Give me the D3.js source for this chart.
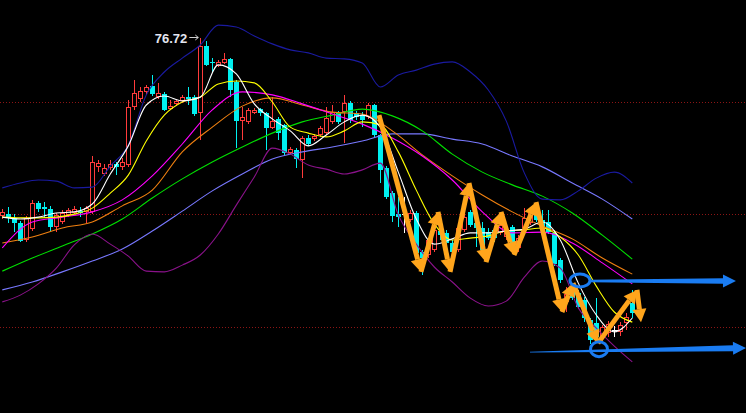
<!DOCTYPE html>
<html><head><meta charset="utf-8">
<script src="https://cdn.jsdelivr.net/npm/d3@7"></script>
<style>html,body{margin:0;padding:0;background:#000;overflow:hidden}</style>
</head><body>
<svg id="c" width="746" height="413"></svg>
<script>
// ---------- candle data (price) ----------
const opens=[71.96,72.01,71.91,71.77,71.32,71.61,72.31,72.20,72.15,71.67,
71.80,71.99,72.04,72.09,72.07,72.07,73.27,73.08,73.24,73.35,
73.27,73.32,74.87,75.08,75.27,75.43,75.13,75.21,74.81,74.95,
75.03,75.13,75.13,74.71,76.49,76.07,75.96,76.04,76.15,75.53,
74.49,74.47,74.71,74.81,74.71,74.31,74.55,74.39,73.64,73.72,
73.45,74.04,74.01,74.12,74.17,74.47,74.71,74.73,74.97,74.71,
74.65,74.60,74.92,74.12,73.24,72.57,72.01,72.01,71.85,72.04,
71.00,70.92,71.05,71.56,71.51,71.24,71.05,71.59,72.07,71.77,
71.64,71.53,71.59,71.51,71.40,71.67,71.11,71.64,71.77,72.04,
71.85,71.80,71.51,70.79,69.67,69.99,69.91,69.72,69.19,69.11,
68.73,68.84,68.92,68.87,69.11,69.64];
const highs=[72.15,72.20,72.01,71.83,71.96,72.39,72.36,72.33,72.23,72.04,
72.12,72.17,72.23,72.20,72.23,73.56,73.45,73.35,73.45,73.40,
73.51,75.05,75.59,75.40,75.45,75.72,75.51,75.27,75.05,75.08,
75.19,75.40,75.19,76.72,76.63,76.17,76.12,76.31,76.17,75.59,
74.87,74.84,74.84,74.84,74.73,75.13,74.60,74.41,73.80,73.77,
74.09,74.12,74.15,74.36,74.87,74.92,74.76,75.19,75.03,74.76,
74.73,74.97,74.95,74.15,73.29,72.63,72.47,72.47,72.12,72.09,
71.05,71.37,71.64,71.77,71.59,71.32,71.72,72.01,72.12,71.93,
71.80,71.64,71.69,71.80,71.67,71.72,71.45,72.17,72.12,72.12,
72.12,72.12,71.59,70.84,70.07,70.09,69.99,69.80,69.24,69.77,
69.05,69.16,69.03,69.13,69.37,69.99];
const lows=[71.88,71.77,71.53,71.27,71.27,71.56,72.07,71.91,71.56,71.53,
71.75,71.93,72.01,71.93,71.77,72.01,73.13,73.03,73.19,73.05,
73.19,73.27,74.79,75.00,75.19,75.16,75.08,74.76,74.79,74.89,
74.97,74.92,74.63,73.99,75.96,75.80,75.93,76.01,75.13,73.77,
73.99,74.41,74.68,74.63,73.72,74.28,73.99,73.59,73.61,73.24,
72.97,73.83,73.96,74.07,74.12,74.41,74.41,73.91,74.44,74.52,
74.33,74.55,74.07,72.84,72.41,71.80,71.67,71.51,71.80,70.92,
70.39,70.84,71.00,71.32,71.16,70.73,71.00,71.53,71.67,71.13,
70.87,71.32,71.27,71.45,71.32,71.00,71.00,71.59,71.72,71.80,
71.59,71.48,70.63,70.17,69.40,69.72,69.48,69.13,68.55,68.65,
68.60,68.73,68.73,68.76,68.92,69.24];
const closes=[72.07,71.91,71.77,71.29,71.91,72.31,72.15,72.15,71.67,71.99,
72.04,72.12,72.15,72.04,72.17,73.40,73.37,73.24,73.35,73.27,
73.40,74.87,75.24,75.29,75.40,75.21,75.24,74.79,74.89,75.03,
75.13,75.08,74.68,76.49,75.99,76.03,76.07,76.15,75.32,74.49,
74.60,74.79,74.79,74.71,74.31,74.49,74.17,73.64,73.75,73.48,
74.04,73.88,74.09,74.31,74.57,74.73,74.47,74.97,74.52,74.60,
74.52,74.92,74.12,73.19,72.47,71.96,71.93,72.01,72.04,70.97,
70.84,71.32,71.59,71.45,71.24,71.00,71.64,71.93,71.72,71.64,
71.05,71.37,71.37,71.72,71.59,71.24,71.37,71.91,72.04,71.85,
71.67,71.53,70.68,70.25,69.88,69.77,69.53,69.24,68.65,68.73,
69.00,69.08,68.92,69.05,69.27,69.37];

// ---------- indicator lines ----------
const idx3=[0,3,6,9,12,15,18,21,24,27,30,33,36,39,42,45,48,51,54,57,60,63,66,69,72,75,78,81,84,87,90,93,96,99,102,105];
const idx5=[0,5,10,15,20,25,30,35,40,45,50,55,60,65,70,75,80,85,90,95,100,105];
const ma5=[71.93,71.88,71.93,72.04,72.07,72.28,73.08,73.83,74.92,75.16,75.03,75.13,75.99,75.75,74.95,74.55,74.23,73.83,74.12,74.47,74.65,74.33,73.13,71.88,71.21,71.35,71.51,71.51,71.56,71.61,71.80,71.32,70.17,69.32,68.87,69.24];
const ma10=[71.93,71.91,71.91,71.93,72.01,72.17,72.57,73.05,73.96,74.65,75.00,75.13,75.48,75.56,75.51,75.00,74.33,74.17,74.07,74.23,74.47,74.39,73.67,72.65,71.75,71.32,71.37,71.43,71.56,71.59,71.64,71.40,70.92,70.09,69.40,69.13];
const ma20=[71.11,71.80,71.93,72.07,72.39,73.03,73.88,74.79,75.27,75.19,74.95,74.68,74.41,74.04,73.56,72.92,72.07,71.51,71.53,71.24,70.71,70.15];
const ma30=[71.24,71.40,71.64,71.80,72.23,72.65,73.67,74.33,74.89,75.11,74.92,74.73,74.68,74.23,73.59,73.03,72.52,72.07,71.69,71.35,70.84,70.41];
const ma60=[70.49,70.84,71.16,71.48,71.88,72.44,72.95,73.40,73.80,74.17,74.47,74.65,74.81,74.63,74.23,73.61,73.13,72.79,72.49,72.04,71.45,70.81];
const ma120=[69.99,70.20,70.47,70.76,71.08,71.56,72.09,72.63,73.08,73.48,73.67,73.80,73.96,74.15,74.15,74.01,73.88,73.56,73.27,72.84,72.41,71.88];
const bollUp=[72.71,72.84,72.92,72.89,72.71,72.73,73.29,73.85,75.19,75.80,76.17,76.52,77.05,77.00,76.76,76.55,76.39,76.31,76.17,76.15,76.04,75.40,75.72,75.85,76.01,76.07,75.80,75.32,74.49,73.11,72.41,72.39,72.63,72.97,73.13,72.84];
const bollDn=[69.67,69.85,70.15,70.57,71.19,71.48,71.21,70.89,70.49,70.47,70.65,70.92,71.48,72.25,73.00,73.77,73.61,73.32,73.21,73.08,73.19,73.37,71.99,71.21,70.60,70.20,69.77,69.56,69.69,70.33,70.76,70.57,69.51,68.97,68.49,68.07];

const gridLevels=[75,72,69];

// ---------- annotations in (bar index, price) ----------
const zigzag=[[62.78,74.65],[69.78,70.47],[72.62,72.07],[74.62,70.47],[77.78,72.84],[80.62,70.73],[83.12,72.07],[85.28,70.92],[88.95,72.33],[93.28,69.40],[95.12,70.17],[99.28,68.57],[105.78,69.99],[106.45,69.13]];
const blueArrows=[{from:[97.95,70.23],to:[122.28,70.23],w0:2.5,w1:5.5},{from:[87.95,68.33],to:[123.95,68.44],w0:0.8,w1:6}];
const blueRings=[{c:[96.28,70.24],rx:10,ry:6.5},{c:[99.45,68.41],rx:8.5,ry:7.5}];

// ---------- drawing ----------
const W=746,H=413;
const svg=d3.select('#c');
svg.append('rect').attr('width',W).attr('height',H).attr('fill','#000');
const x=d3.scaleLinear().domain([0,105]).range([2.3,632.3]);
const y=d3.scaleLinear().domain([69,75]).range([327,102]);

svg.append('g').attr('shape-rendering','crispEdges').selectAll('line').data(gridLevels).join('line')
  .attr('x1',0).attr('x2',W)
  .attr('y1',d=>Math.floor(y(d))+0.5).attr('y2',d=>Math.floor(y(d))+0.5)
  .attr('stroke','#8c1515').attr('stroke-dasharray','1 2').attr('stroke-width',1);

const gC=svg.append('g').attr('shape-rendering','crispEdges');
opens.forEach((o,i)=>{
  const c=closes[i],h=highs[i],l=lows[i];
  const cx=Math.round(x(i))+0.5;
  const doji=(c===o), up=c>o;
  const col=doji?'#ffffff':(up?'#ff3b3b':'#00f0f0');
  const top=Math.round(y(Math.max(o,c))), bot=Math.round(y(Math.min(o,c)));
  gC.append('line').attr('x1',cx).attr('x2',cx).attr('y1',Math.round(y(h))).attr('y2',top).attr('stroke',col);
  gC.append('line').attr('x1',cx).attr('x2',cx).attr('y1',bot).attr('y2',Math.round(y(l))).attr('stroke',col);
  if(doji){
    gC.append('line').attr('x1',cx-3).attr('x2',cx+3).attr('y1',top+0.5).attr('y2',top+0.5).attr('stroke',col);
  } else if(up){
    gC.append('rect').attr('x',cx-2).attr('y',top+0.5).attr('width',4).attr('height',Math.max(1,bot-top-1))
      .attr('fill','#000').attr('stroke',col);
  } else {
    gC.append('rect').attr('x',cx-2.5).attr('y',top).attr('width',5).attr('height',Math.max(1,bot-top)).attr('fill',col);
  }
});

const series=[
  {idx:idx5,v:ma120,col:'#7878ff'},
  {idx:idx5,v:ma60,col:'#00e000'},
  {idx:idx3,v:bollUp,col:'#1a1aa0'},
  {idx:idx3,v:bollDn,col:'#8a128a'},
  {idx:idx5,v:ma30,col:'#f08010'},
  {idx:idx5,v:ma20,col:'#ff00ff'},
  {idx:idx3,v:ma10,col:'#ffff00'},
  {idx:idx3,v:ma5,col:'#ffffff'}
];
const line=d3.line().x(d=>x(d[0])).y(d=>y(d[1])).curve(d3.curveMonotoneX);
svg.append('g').selectAll('path').data(series).join('path')
  .attr('d',s=>line(s.idx.map((k,j)=>[k,s.v[j]])))
  .attr('fill','none').attr('stroke',s=>s.col).attr('stroke-width',1.1);

// high label
const hi=d3.maxIndex(highs);
const hx=x(hi), hy=y(highs[hi]);
svg.append('text').attr('x',hx-13).attr('y',hy+5.5).attr('text-anchor','end')
  .attr('font-family','"Liberation Sans", Arial, sans-serif').attr('font-weight','bold').attr('font-size',13)
  .attr('fill','#e4e6f0').text(d3.format('.2f')(highs[hi]));
svg.append('line').attr('x1',hx-11).attr('x2',hx-2).attr('y1',hy).attr('y2',hy).attr('stroke','#d0d0d0');
svg.append('path').attr('d',`M${hx-5},${hy-2.5}L${hx-2},${hy}L${hx-5},${hy+2.5}`).attr('fill','none').attr('stroke','#d0d0d0');

// orange zigzag arrows
const P=d=>[x(d[0]),y(d[1])];
const gO=svg.append('g');
function headPts(a,b,hl,hw){
  const dx=b[0]-a[0],dy=b[1]-a[1],L=Math.hypot(dx,dy),ux=dx/L,uy=dy/L,nx=-uy,ny=ux;
  const bx=b[0]-ux*hl,by=b[1]-uy*hl;
  return {bx,by,nx,ny,pts:[[b[0],b[1]],[bx+nx*hw,by+ny*hw],[bx-nx*hw,by-ny*hw]]};
}
for(let k=0;k<zigzag.length-1;k++){
  const a=P(zigzag[k]),b=P(zigzag[k+1]);
  const h=headPts(a,b,13,7);
  gO.append('line').attr('x1',a[0]).attr('y1',a[1]).attr('x2',h.bx).attr('y2',h.by)
    .attr('stroke','#ffa51c').attr('stroke-width',5);
  gO.append('polygon').attr('points',h.pts.map(p=>p.join(',')).join(' ')).attr('fill','#ffa51c');
}

// blue arrows + rings
const blue='#1a7cf2';
blueArrows.forEach(ar=>{
  const a=P(ar.from),b=P(ar.to);
  const h=headPts(a,b,13,6.5);
  const n=[h.nx,h.ny];
  const pts=[
    [a[0]+n[0]*ar.w0/2,a[1]+n[1]*ar.w0/2],
    [h.bx+n[0]*ar.w1/2,h.by+n[1]*ar.w1/2],
    h.pts[1],h.pts[0],h.pts[2],
    [h.bx-n[0]*ar.w1/2,h.by-n[1]*ar.w1/2],
    [a[0]-n[0]*ar.w0/2,a[1]-n[1]*ar.w0/2]];
  svg.append('polygon').attr('points',pts.map(p=>p.join(',')).join(' ')).attr('fill',blue);
});
blueRings.forEach(r=>{
  const c=P(r.c);
  svg.append('ellipse').attr('cx',c[0]).attr('cy',c[1]).attr('rx',r.rx).attr('ry',r.ry)
    .attr('fill','none').attr('stroke',blue).attr('stroke-width',3);
});
</script>
</body></html>
